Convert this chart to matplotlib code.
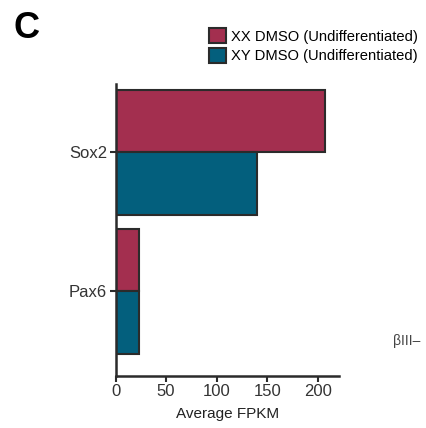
import numpy as np
import matplotlib
matplotlib.use("Agg")
import matplotlib.pyplot as plt

plt.rcParams['font.family'] = ['Liberation Sans', 'DejaVu Sans']

genes = ["Pax6", "Sox2"]
xx_dmso = [23.5, 207.5]
xy_dmso = [23.0, 139.8]
series_names = ["XX DMSO (Undifferentiated)", "XY DMSO (Undifferentiated)"]
xticks = [0, 50, 100, 150, 200]

col_xx = "#a32f4f"
col_xy = "#035f7d"
edge = "#2b2b2b"

fig = plt.figure(figsize=(4.27, 4.28), dpi=100)
ax = fig.add_axes([115.5 / 427, (428 - 375.7) / 428, (339 - 115.5) / 427, (375.7 - 84) / 428])

pos = np.arange(len(genes))
h = 0.45
b1 = ax.barh(pos + h / 2, xx_dmso, height=h, color=col_xx, edgecolor=edge, linewidth=1.5,
             label=series_names[0])
b2 = ax.barh(pos - h / 2, xy_dmso, height=h, color=col_xy, edgecolor=edge, linewidth=1.5,
             label=series_names[1])

ax.set_xlim(0, 221)
ax.set_ylim(-0.607, 1.49)
ax.set_yticks(pos)
ax.set_yticklabels(genes, fontsize=12, color="#333333")
ax.set_xticks(xticks)
ax.set_xticklabels([str(t) for t in xticks], fontsize=12, color="#333333")
ax.set_xlabel("Average FPKM", fontsize=11, color="#222222", labelpad=6)

for s in ["top", "right"]:
    ax.spines[s].set_visible(False)
for s in ["left", "bottom"]:
    ax.spines[s].set_linewidth(1.8)
    ax.spines[s].set_color("#2b2b2b")
ax.tick_params(axis='both', direction='out', width=1.5, length=4, color="#2b2b2b", pad=2)

leg = fig.legend(handles=[b1, b2], loc="upper left", bbox_to_anchor=(209 / 427, 1 - 28 / 428),
                 frameon=False, fontsize=10.6, handlelength=1.15, handleheight=1.2,
                 handletextpad=0.35, labelspacing=0.3, borderaxespad=0, borderpad=0)

fig.text(14 / 427, 1 - 38 / 428, "C", fontsize=26, fontweight="bold", color="black")
fig.text(393 / 427, 1 - 345 / 428, "\u03b2III\u2013", fontsize=10, color="#444444")

fig.savefig("out.png", dpi=100)
